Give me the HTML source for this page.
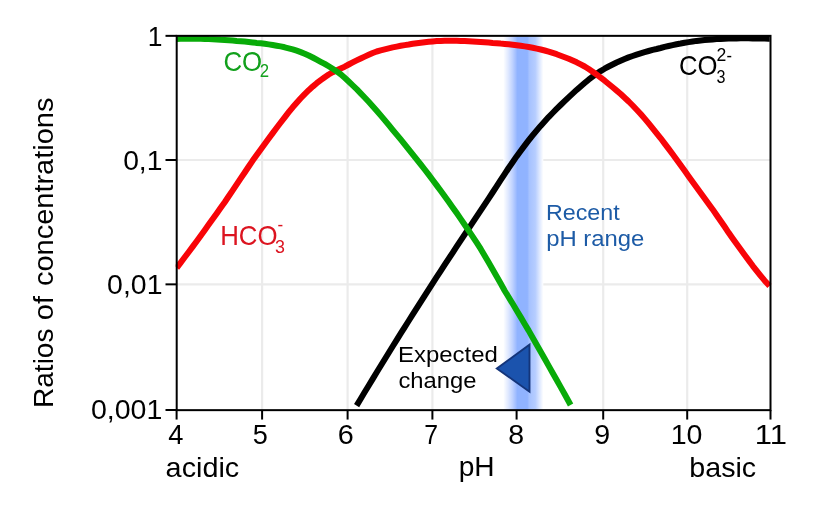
<!DOCTYPE html>
<html><head><meta charset="utf-8"><title>Carbonate system</title>
<style>
html,body{margin:0;padding:0;background:#fff;}
body{width:827px;height:512px;overflow:hidden;font-family:"Liberation Sans",sans-serif;}
svg{display:block;will-change:transform;}
text{font-family:"Liberation Sans",sans-serif;}
</style></head><body>
<svg width="827" height="512" viewBox="0 0 827 512">
<rect width="827" height="512" fill="#fff"/>
<defs>
<linearGradient id="band" x1="0" x2="1" y1="0" y2="0">
<stop offset="0" stop-color="#ffffff"/>
<stop offset="0.12" stop-color="#e0e9ff"/>
<stop offset="0.23" stop-color="#bfd2ff"/>
<stop offset="0.31" stop-color="#a2beff"/>
<stop offset="0.35" stop-color="#90b3ff"/>
<stop offset="0.60" stop-color="#90b3ff"/>
<stop offset="0.65" stop-color="#a6c2ff"/>
<stop offset="0.80" stop-color="#b6cdff"/>
<stop offset="0.91" stop-color="#dfe9ff"/>
<stop offset="1" stop-color="#ffffff"/>
</linearGradient>
<clipPath id="clip"><rect x="175.7" y="34.85" width="595.8" height="376.2"/></clipPath>
</defs>
<g stroke="#ebebeb" stroke-width="2.2"><line x1="262.1" y1="35.85" x2="262.1" y2="410.15"/><line x1="347.6" y1="35.85" x2="347.6" y2="410.15"/><line x1="432.4" y1="35.85" x2="432.4" y2="410.15"/><line x1="516.6" y1="35.85" x2="516.6" y2="410.15"/><line x1="603.2" y1="35.85" x2="603.2" y2="410.15"/><line x1="687.2" y1="35.85" x2="687.2" y2="410.15"/><line x1="176.7" y1="160.0" x2="770.5" y2="160.0"/><line x1="176.7" y1="284.35" x2="770.5" y2="284.35"/></g>
<rect x="503.3" y="35.85" width="40" height="374.29999999999995" fill="url(#band)"/>
<g fill="none" stroke-width="6" stroke-linejoin="round" clip-path="url(#clip)"><path d="M356.6 405.6 L360.6 399.0 L364.6 392.3 L368.6 385.7 L372.6 379.1 L376.6 372.5 L380.6 366.0 L384.6 359.5 L388.6 353.0 L392.6 346.5 L396.6 340.1 L400.6 333.7 L404.6 327.3 L408.6 321.0 L412.6 314.7 L416.6 308.4 L420.6 302.1 L424.6 295.8 L428.6 289.6 L432.6 283.4 L436.6 277.2 L440.6 271.1 L444.6 264.9 L448.6 258.8 L452.6 252.8 L456.6 246.7 L460.6 240.7 L464.6 234.7 L468.6 228.7 L472.6 222.7 L476.6 216.7 L480.6 210.7 L484.6 204.7 L488.6 198.7 L492.6 192.5 L496.6 186.4 L500.6 180.2 L504.6 174.1 L508.6 168.0 L512.6 162.2 L516.6 156.4 L520.6 150.9 L524.6 145.6 L528.6 140.4 L532.6 135.4 L536.6 130.6 L540.6 125.9 L544.6 121.5 L548.6 117.1 L552.6 113.0 L556.6 108.9 L560.6 105.0 L564.6 101.1 L568.6 97.3 L572.6 93.6 L576.6 89.9 L580.6 86.4 L584.6 83.0 L588.6 79.7 L592.6 76.7 L596.6 73.8 L600.6 71.1 L604.6 68.7 L608.6 66.5 L612.6 64.5 L616.6 62.5 L620.6 60.7 L624.6 59.0 L628.6 57.4 L632.6 56.0 L636.6 54.6 L640.6 53.3 L644.6 52.1 L648.6 51.0 L652.6 49.9 L656.6 49.0 L660.6 48.0 L664.6 46.9 L668.6 46.0 L672.6 45.1 L676.6 44.2 L680.6 43.5 L684.6 42.7 L688.6 42.1 L692.6 41.5 L696.6 40.9 L700.6 40.4 L704.6 40.0 L708.6 39.7 L712.6 39.4 L716.6 39.1 L720.6 38.9 L724.6 38.7 L728.6 38.6 L732.6 38.5 L736.6 38.4 L740.6 38.3 L744.6 38.3 L748.6 38.3 L752.6 38.4 L756.6 38.5 L760.6 38.5 L764.6 38.6 L768.6 38.7 L769.7 38.7" stroke="#000"/><path d="M176.7 267.8 L180.7 262.6 L184.7 257.3 L188.7 252.0 L192.7 246.6 L196.7 241.2 L200.7 235.7 L204.7 230.2 L208.7 224.6 L212.7 219.0 L216.7 213.4 L220.7 207.8 L224.7 202.2 L228.7 196.3 L232.7 190.4 L236.7 184.4 L240.7 178.4 L244.7 172.5 L248.7 166.5 L252.7 160.6 L256.7 155.0 L260.7 149.5 L264.7 144.0 L268.7 138.5 L272.7 133.1 L276.7 127.8 L280.7 122.5 L284.7 117.3 L288.7 112.2 L292.7 107.3 L296.7 102.7 L300.7 98.3 L304.7 94.1 L308.7 90.2 L312.7 86.6 L316.7 83.2 L320.7 80.1 L324.7 77.2 L328.7 74.5 L332.7 72.2 L336.7 70.2 L340.7 68.4 L344.7 66.7 L348.7 64.5 L352.7 62.4 L356.7 60.4 L360.7 58.5 L364.7 56.6 L368.7 54.8 L372.7 53.0 L376.7 51.5 L380.7 50.4 L384.7 49.4 L388.7 48.4 L392.7 47.4 L396.7 46.6 L400.7 45.8 L404.7 45.1 L408.7 44.5 L412.7 43.8 L416.7 43.2 L420.7 42.7 L424.7 42.2 L428.7 41.8 L432.7 41.4 L436.7 41.1 L440.7 40.9 L444.7 40.8 L448.7 40.7 L452.7 40.8 L456.7 40.8 L460.7 40.9 L464.7 41.1 L468.7 41.3 L472.7 41.5 L476.7 41.7 L480.7 41.9 L484.7 42.2 L488.7 42.5 L492.7 42.9 L496.7 43.2 L500.7 43.6 L504.7 43.9 L508.7 44.3 L512.7 44.8 L516.7 45.3 L520.7 45.8 L524.7 46.4 L528.7 47.0 L532.7 47.7 L536.7 48.6 L540.7 49.5 L544.7 50.5 L548.7 51.6 L552.7 52.9 L556.7 54.2 L560.7 55.7 L564.7 57.2 L568.7 58.7 L572.7 60.5 L576.7 62.3 L580.7 64.4 L584.7 66.5 L588.7 69.0 L592.7 71.7 L596.7 74.6 L600.7 77.6 L604.7 80.7 L608.7 84.0 L612.7 87.3 L616.7 90.6 L620.7 94.0 L624.7 97.7 L628.7 101.5 L632.7 105.5 L636.7 109.7 L640.7 114.0 L644.7 118.6 L648.7 123.4 L652.7 128.3 L656.7 133.3 L660.7 138.3 L664.7 143.6 L668.7 148.9 L672.7 154.3 L676.7 159.8 L680.7 165.3 L684.7 170.8 L688.7 176.4 L692.7 181.9 L696.7 187.4 L700.7 192.9 L704.7 198.4 L708.7 203.9 L712.7 209.4 L716.7 215.2 L720.7 221.0 L724.7 226.8 L728.7 232.8 L732.7 238.5 L736.7 244.0 L740.7 249.5 L744.7 255.0 L748.7 260.4 L752.7 265.8 L756.7 270.9 L760.7 275.9 L764.7 280.7 L768.7 285.1 L769.5 286.0" stroke="#f80408"/><path d="M176.7 39.0 L180.7 38.8 L184.7 38.8 L188.7 38.7 L192.7 38.7 L196.7 38.7 L200.7 38.8 L204.7 38.9 L208.7 39.1 L212.7 39.2 L216.7 39.4 L220.7 39.7 L224.7 39.9 L228.7 40.2 L232.7 40.5 L236.7 40.9 L240.7 41.2 L244.7 41.6 L248.7 42.0 L252.7 42.4 L256.7 42.9 L260.7 43.3 L264.7 43.8 L268.7 44.4 L272.7 45.0 L276.7 45.7 L280.7 46.4 L284.7 47.3 L288.7 48.3 L292.7 49.4 L296.7 50.7 L300.7 52.1 L304.7 53.7 L308.7 55.5 L312.7 57.5 L316.7 59.7 L320.7 61.8 L324.7 63.9 L328.7 66.3 L332.7 68.8 L336.7 71.4 L340.7 74.3 L344.7 77.8 L348.7 81.5 L352.7 85.3 L356.7 89.2 L360.7 93.3 L364.7 97.5 L368.7 101.8 L372.7 106.2 L376.7 110.7 L380.7 115.4 L384.7 120.1 L388.7 124.9 L392.7 129.8 L396.7 134.6 L400.7 139.4 L404.7 144.3 L408.7 149.3 L412.7 154.3 L416.7 159.3 L420.7 164.4 L424.7 169.5 L428.7 174.7 L432.7 180.0 L436.7 185.4 L440.7 190.8 L444.7 196.3 L448.7 201.8 L452.7 207.5 L456.7 213.1 L460.7 218.9 L464.7 224.7 L468.7 230.6 L472.7 236.6 L476.7 242.7 L480.7 248.9 L484.7 255.7 L488.7 262.5 L492.7 269.4 L496.7 276.4 L500.7 283.5 L504.7 290.7 L508.7 297.3 L512.7 303.8 L516.7 310.5 L520.7 317.1 L524.7 323.9 L528.7 330.6 L532.7 337.7 L536.7 344.7 L540.7 351.7 L544.7 358.8 L548.7 365.9 L552.7 372.9 L556.7 380.0 L560.7 387.1 L564.7 394.3 L568.7 401.5 L570.6 405.0" stroke="#08ab08"/></g>
<path d="M496.8 368.5 L529.5 344.7 L529.5 391.7 Z" fill="#1b53ad" stroke="#14357a" stroke-width="1.9" stroke-linejoin="miter"/>
<rect x="176.7" y="35.85" width="593.8" height="374.29999999999995" fill="none" stroke="#000" stroke-width="2.0"/>
<g stroke="#000" stroke-width="2"><line x1="176.6" y1="410.15" x2="176.6" y2="419.54999999999995"/><line x1="262.1" y1="410.15" x2="262.1" y2="419.54999999999995"/><line x1="347.6" y1="410.15" x2="347.6" y2="419.54999999999995"/><line x1="432.4" y1="410.15" x2="432.4" y2="419.54999999999995"/><line x1="516.6" y1="410.15" x2="516.6" y2="419.54999999999995"/><line x1="603.2" y1="410.15" x2="603.2" y2="419.54999999999995"/><line x1="687.2" y1="410.15" x2="687.2" y2="419.54999999999995"/><line x1="770.5" y1="410.15" x2="770.5" y2="419.54999999999995"/><line x1="176.7" y1="35.85" x2="165.5" y2="35.85"/><line x1="176.7" y1="160.0" x2="165.5" y2="160.0"/><line x1="176.7" y1="284.35" x2="165.5" y2="284.35"/><line x1="176.7" y1="410.0" x2="165.5" y2="410.0"/></g>
<text x="147.86" y="46.3" font-size="27.5" fill="#000" textLength="14.70" lengthAdjust="spacingAndGlyphs">1</text>
<text x="123.16" y="169.9" font-size="27.5" fill="#000" textLength="39.29" lengthAdjust="spacingAndGlyphs">0,1</text>
<text x="107.11" y="294.3" font-size="27.5" fill="#000" textLength="55.36" lengthAdjust="spacingAndGlyphs">0,01</text>
<text x="90.90" y="418.9" font-size="27.5" fill="#000" textLength="71.36" lengthAdjust="spacingAndGlyphs">0,001</text>
<text x="168.24" y="443.9" font-size="27.5" fill="#000" textLength="15.18" lengthAdjust="spacingAndGlyphs">4</text>
<text x="252.71" y="443.9" font-size="27.5" fill="#000" textLength="15.07" lengthAdjust="spacingAndGlyphs">5</text>
<text x="337.79" y="443.9" font-size="27.5" fill="#000" textLength="16.05" lengthAdjust="spacingAndGlyphs">6</text>
<text x="424.36" y="443.9" font-size="27.5" fill="#000" textLength="13.80" lengthAdjust="spacingAndGlyphs">7</text>
<text x="508.37" y="443.9" font-size="27.5" fill="#000" textLength="15.86" lengthAdjust="spacingAndGlyphs">8</text>
<text x="594.36" y="443.9" font-size="27.5" fill="#000" textLength="15.92" lengthAdjust="spacingAndGlyphs">9</text>
<text x="670.67" y="443.9" font-size="27.5" fill="#000" textLength="31.80" lengthAdjust="spacingAndGlyphs">10</text>
<text x="754.75" y="443.9" font-size="27.5" fill="#000" textLength="32.18" lengthAdjust="spacingAndGlyphs">11</text>
<text x="165.64" y="476.6" font-size="27.5" fill="#000" textLength="73.58" lengthAdjust="spacingAndGlyphs">acidic</text>
<text x="458.70" y="476.2" font-size="27.5" fill="#000" textLength="35.96" lengthAdjust="spacingAndGlyphs">pH</text>
<text x="689.28" y="476.6" font-size="27.5" fill="#000" textLength="66.92" lengthAdjust="spacingAndGlyphs">basic</text>
<text x="223.38" y="71.0" font-size="27.5" fill="#12a01c" textLength="38.76" lengthAdjust="spacingAndGlyphs">CO</text>
<text x="220.20" y="245.4" font-size="27.5" fill="#dc1420" textLength="57.36" lengthAdjust="spacingAndGlyphs">HCO</text>
<text x="678.93" y="74.5" font-size="27.5" fill="#000" textLength="38.51" lengthAdjust="spacingAndGlyphs">CO</text>
<text x="545.96" y="219.7" font-size="21.4" fill="#1d5ba6" textLength="73.72" lengthAdjust="spacingAndGlyphs">Recent</text>
<text x="546.17" y="246.1" font-size="21.4" fill="#1d5ba6" textLength="98.15" lengthAdjust="spacingAndGlyphs">pH range</text>
<text x="398.04" y="361.7" font-size="21.4" fill="#000" textLength="99.84" lengthAdjust="spacingAndGlyphs">Expected</text>
<text x="398.47" y="388.2" font-size="21.4" fill="#000" textLength="78.10" lengthAdjust="spacingAndGlyphs">change</text>
<text x="259.71" y="77.1" font-size="18.5" fill="#12a01c" textLength="9.34" lengthAdjust="spacingAndGlyphs">2</text>
<text x="274.88" y="252.6" font-size="18.5" fill="#dc1420" textLength="9.96" lengthAdjust="spacingAndGlyphs">3</text>
<text x="277.49" y="231.3" font-size="18.5" fill="#dc1420" textLength="5.67" lengthAdjust="spacingAndGlyphs">-</text>
<text x="716.47" y="83.1" font-size="18.5" fill="#000" textLength="8.98" lengthAdjust="spacingAndGlyphs">3</text>
<text x="716.40" y="60.9" font-size="18.5" fill="#000" textLength="9.80" lengthAdjust="spacingAndGlyphs">2</text>
<text x="726.39" y="61.6" font-size="18.5" fill="#000" textLength="5.49" lengthAdjust="spacingAndGlyphs">-</text>
<text transform="translate(53.2 407.90) rotate(-90)" font-size="27.5" textLength="79.30" lengthAdjust="spacingAndGlyphs">Ratios</text>
<text transform="translate(53.2 320.20) rotate(-90)" font-size="27.5" textLength="24.18" lengthAdjust="spacingAndGlyphs">of</text>
<text transform="translate(53.2 286.00) rotate(-90)" font-size="27.5" textLength="188.43" lengthAdjust="spacingAndGlyphs">concentrations</text>
</svg>
</body></html>
